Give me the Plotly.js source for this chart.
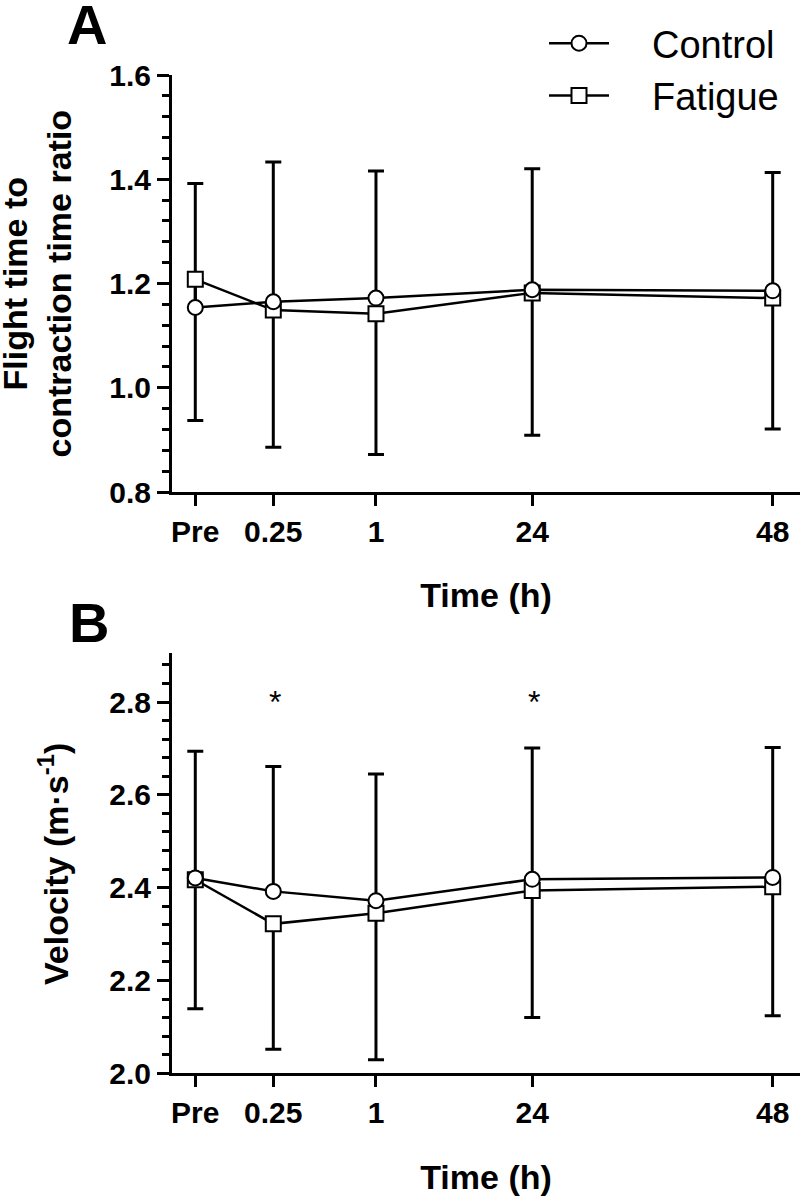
<!DOCTYPE html>
<html><head><meta charset="utf-8">
<script src="https://cdn.plot.ly/plotly-3.0.1.min.js"></script>
<style>body{margin:0;background:#fff}</style>
</head><body><div id="chart" style="width:800px;height:1198px"></div>
<script>
// ---- data ----
const timeLabels = ['Pre', '0.25', '1', '24', '48'];
const timePos = [0, 3, 6.95, 12.96, 22.21];   // position of each time point on the x scale

// Panel A: flight time to contraction time ratio
const ratioControl      = [1.154, 1.165, 1.172, 1.188, 1.186];
const ratioControlUpper = [1.392, 1.433, 1.416, 1.420, 1.413];
const ratioFatigue      = [1.208, 1.149, 1.142, 1.182, 1.172];
const ratioFatigueLower = [0.937, 0.886, 0.872, 0.909, 0.921];

// Panel B: velocity (m/s)
const velControl      = [2.421, 2.392, 2.372, 2.418, 2.422];
const velControlUpper = [2.694, 2.661, 2.645, 2.701, 2.702];
const velFatigue      = [2.417, 2.322, 2.345, 2.394, 2.402];
const velFatigueLower = [2.139, 2.052, 2.029, 2.120, 2.124];

// significance markers (panel B)
const sigIndex = [1, 3];
const sigLabel = ['*', '*'];
const sigLevel = 2.8;

// ---- helpers ----
const FONT = 'Arial, "Liberation Sans", sans-serif';
const diff = (a, b) => a.map((v, i) => v - b[i]);
const zeros = n => new Array(n).fill(0);

function errTrace(y, plus, minus, xa, ya) {
  return {
    x: timePos, y: y, xaxis: xa, yaxis: ya, type: 'scatter', mode: 'none',
    showlegend: false, hoverinfo: 'skip',
    error_y: {type: 'data', symmetric: false, array: plus, arrayminus: minus,
              color: '#000', thickness: 3, width: 8}
  };
}
function lineTrace(name, y, symbol, xa, ya, legend, rank) {
  return {
    x: timePos, y: y, xaxis: xa, yaxis: ya, type: 'scatter', mode: 'lines+markers',
    name: '\u2003' + name, legendgroup: name, showlegend: legend, legendrank: rank,
    line: {color: '#000', width: 2.5},
    marker: {symbol: symbol, size: 15, color: '#fff',
             line: {color: '#000', width: 2}}
  };
}

const n = timePos.length;
const traces = [
  // panel A
  errTrace(ratioControl, diff(ratioControlUpper, ratioControl), zeros(n), 'x', 'y'),
  errTrace(ratioFatigue, zeros(n), diff(ratioFatigue, ratioFatigueLower), 'x', 'y'),
  lineTrace('Fatigue', ratioFatigue, 'square', 'x', 'y', true, 2),
  lineTrace('Control', ratioControl, 'circle', 'x', 'y', true, 1),
  // panel B
  errTrace(velControl, diff(velControlUpper, velControl), zeros(n), 'x2', 'y2'),
  errTrace(velFatigue, zeros(n), diff(velFatigue, velFatigueLower), 'x2', 'y2'),
  lineTrace('Fatigue', velFatigue, 'square', 'x2', 'y2', false, 2),
  lineTrace('Control', velControl, 'circle', 'x2', 'y2', false, 1)
];

const xCommon = {
  range: [-0.896, 23.26], tickmode: 'array', tickvals: timePos, ticktext: timeLabels,
  showline: true, linecolor: '#000', linewidth: 3, showgrid: false, zeroline: false,
  ticks: 'outside', ticklen: 11, tickwidth: 3, tickcolor: '#000',
  tickfont: {family: FONT, size: 30, color: '#000', weight: 'bold'},
  title: {text: '<b>Time (h)</b>', standoff: 37, font: {family: FONT, size: 34, color: '#000'}},
  fixedrange: true
};
const yCommon = {
  showline: true, linecolor: '#000', linewidth: 3, showgrid: false, zeroline: false,
  ticks: 'outside', ticklen: 12, tickwidth: 3, tickcolor: '#000', dtick: 0.2,
  tickformat: '.1f',
  minor: {dtick: 0.04, ticks: 'outside', ticklen: 7, tickwidth: 3, tickcolor: '#000', showgrid: false},
  tickfont: {family: FONT, size: 30, color: '#000', weight: 'bold'},
  fixedrange: true
};

const H = 1198, W = 800;
const layout = {
  width: W, height: H,
  margin: {l: 0, r: 0, t: 0, b: 0},
  paper_bgcolor: '#fff', plot_bgcolor: 'rgba(0,0,0,0)',
  showlegend: true,
  legend: {x: 0.68, y: 1 - 12 / H, xanchor: 'left', yanchor: 'top',
           font: {family: FONT, size: 38, color: '#000'}, itemwidth: 60,
           bgcolor: 'rgba(0,0,0,0)', traceorder: 'normal'},
  xaxis: Object.assign({}, xCommon, {domain: [172 / W, 1], anchor: 'y'}),
  yaxis: Object.assign({}, yCommon, {domain: [1 - 492 / H, 1 - 75 / H], range: [0.8, 1.6], anchor: 'x'}),
  xaxis2: Object.assign({}, xCommon, {domain: [172 / W, 1], anchor: 'y2'}),
  yaxis2: Object.assign({}, yCommon, {domain: [1 - 1073.3 / H, 1 - 653.3 / H], range: [2.0, 2.905], anchor: 'x2'}),
  annotations: [
    {text: '<b>A</b>', xref: 'paper', yref: 'paper', x: 87 / W, y: 1 - 24 / H,
     xanchor: 'center', yanchor: 'middle', showarrow: false, font: {family: FONT, size: 56, color: '#000'}},
    {text: '<b>B</b>', xref: 'paper', yref: 'paper', x: 89 / W, y: 1 - 622 / H,
     xanchor: 'center', yanchor: 'middle', showarrow: false, font: {family: FONT, size: 56, color: '#000'}},
    {text: '<b>Flight time to<br>contraction time ratio</b>', xref: 'paper', yref: 'paper',
     x: 36 / W, y: 1 - 283.5 / H, xanchor: 'center', yanchor: 'middle', textangle: -90,
     showarrow: false, font: {family: FONT, size: 34, color: '#000'}},
    {text: '<b>Velocity (m·s<sup>-1</sup>)</b>', xref: 'paper', yref: 'paper',
     x: 53 / W, y: 1 - 864 / H, xanchor: 'center', yanchor: 'middle', textangle: -90,
     showarrow: false, font: {family: FONT, size: 34, color: '#000'}}
  ].concat(sigIndex.map((k, i) => ({
    text: sigLabel[i], xref: 'x2', yref: 'y2', x: timePos[k], y: sigLevel, yshift: 0, xshift: 2,
    xanchor: 'center', yanchor: 'middle', showarrow: false,
    font: {family: FONT, size: 32, color: '#000'}
  })))
};

Plotly.newPlot('chart', traces, layout, {displayModeBar: false, staticPlot: true});
</script>
</body></html>
